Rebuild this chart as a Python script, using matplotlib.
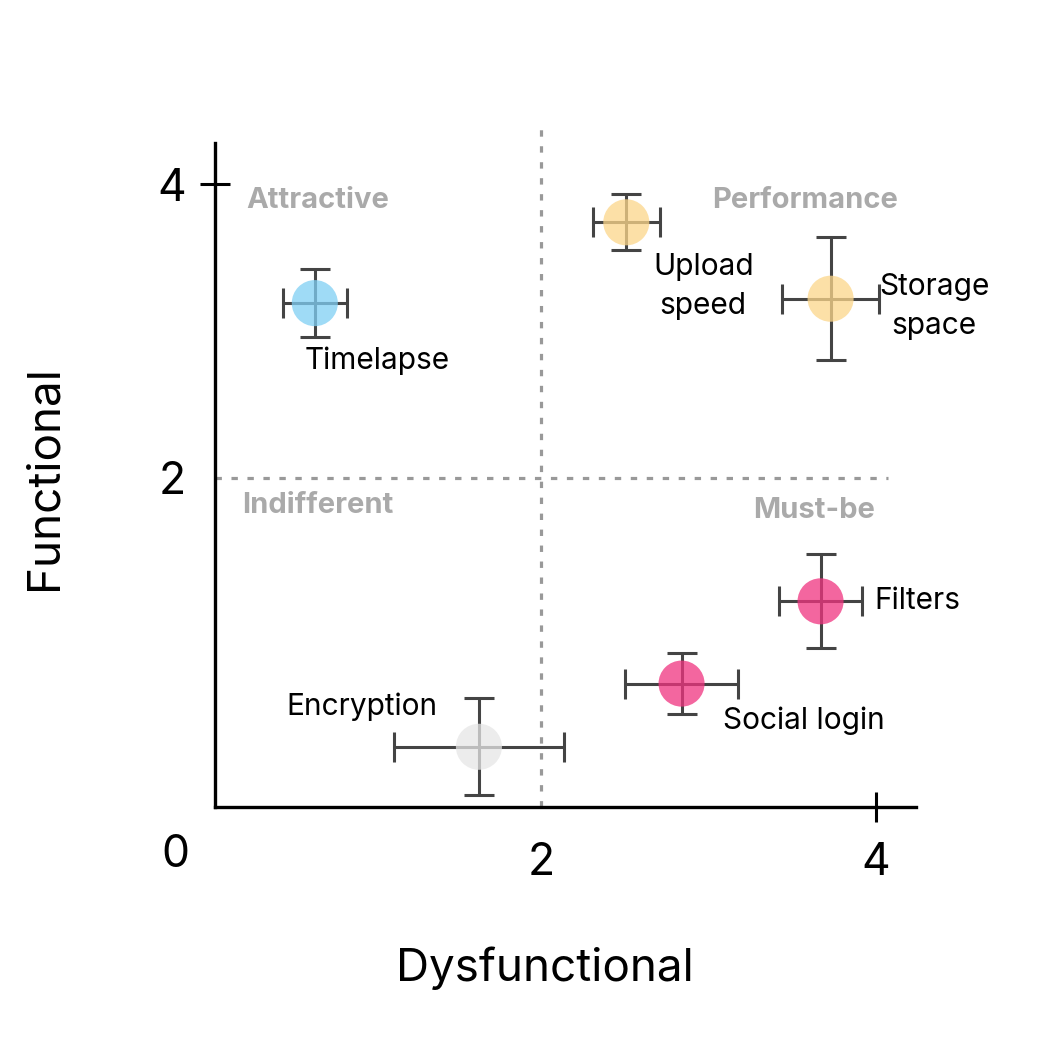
import matplotlib.pyplot as plt

plt.rcParams['font.family'] = ['Inter', 'DejaVu Sans']

features = ['Timelapse', 'Upload\nspeed', 'Storage\nspace', 'Filters', 'Social login', 'Encryption']
dysfunctional = [0.65, 2.51, 3.73, 3.67, 2.84, 1.63]
functional = [3.19, 3.74, 3.22, 1.16, 0.60, 0.17]
x_err = [0.19, 0.20, 0.29, 0.25, 0.34, 0.51]
y_err = [0.23, 0.19, 0.42, 0.32, 0.21, 0.33]
colors = ['#7fcff4', '#fcd68a', '#fcd68a', '#f0337f', '#f0337f', '#e6e6e6']

# label positions (data coords) and alignment
label_pos = [(0.59, 2.80, 'left'), (2.97, 3.30, 'center'), (4.35, 3.17, 'center'),
             (3.99, 1.16, 'left'), (3.09, 0.35, 'left'), (1.38, 0.44, 'right')]

quadrants = ['Attractive', 'Performance', 'Indifferent', 'Must-be']
quad_pos = [(0.67, 3.89), (3.58, 3.89), (0.67, 1.81), (3.63, 1.78)]

fig = plt.figure(figsize=(10.41, 10.41), dpi=100)
ax = fig.add_axes([215/1041, 234/1041, 701/1041, 664/1041])
ax.set_xlim(0.054, 4.24)
ax.set_ylim(-0.24, 4.28)

for s in ['top', 'right']:
    ax.spines[s].set_visible(False)
for s in ['left', 'bottom']:
    ax.spines[s].set_linewidth(2.4)

# quadrant dividers
ax.plot([2.0, 2.0], [-0.24, 4.38], ls=(0, (2, 3)), color='#999999', lw=2.3, clip_on=False, zorder=1)
ax.plot([0.054, 4.07], [2.0, 2.0], ls=(0, (2, 3)), color='#999999', lw=2.3, clip_on=False, zorder=1)

for i in range(len(features)):
    ax.errorbar(dysfunctional[i], functional[i], xerr=x_err[i], yerr=y_err[i],
                fmt='none', ecolor='#444444', elinewidth=2.2, capsize=11,
                capthick=2.2, zorder=2, clip_on=False)
    ax.scatter(dysfunctional[i], functional[i], s=1100, color=colors[i], alpha=0.75,
               edgecolors='none', zorder=3, clip_on=False)
    lx, ly, ha = label_pos[i]
    ax.text(lx, ly, features[i], ha=ha, va='center', fontsize=21.5,
            linespacing=1.5, multialignment='center')

for q, (qx, qy) in zip(quadrants, quad_pos):
    ax.text(qx, qy, q, ha='center', va='center', fontsize=21, fontweight='bold', color='#aaaaaa')

ax.set_xticks([2, 4])
ax.set_xticklabels(['2', '4'])
ax.set_yticks([2, 4])
ax.set_yticklabels(['2', '4'])
ax.tick_params(direction='inout', length=22, width=2.2, labelsize=32)
ax.tick_params(axis='x', pad=14)
ax.tick_params(axis='y', pad=10)
ax.xaxis.get_major_ticks()[0].tick1line.set_visible(False)
ax.yaxis.get_major_ticks()[0].tick1line.set_visible(False)
ax.text(-0.185, -0.565, '0', transform=ax.transData, ha='center', va='center', fontsize=32,
        clip_on=False)

fig.text(545/1041, 1 - 968/1041, 'Dysfunctional', ha='center', va='center', fontsize=33)
fig.text(45/1041, 1 - 478/1041, 'Functional', ha='center', va='center', fontsize=33, rotation=90)

fig.savefig('out.png', dpi=100, facecolor='white')
